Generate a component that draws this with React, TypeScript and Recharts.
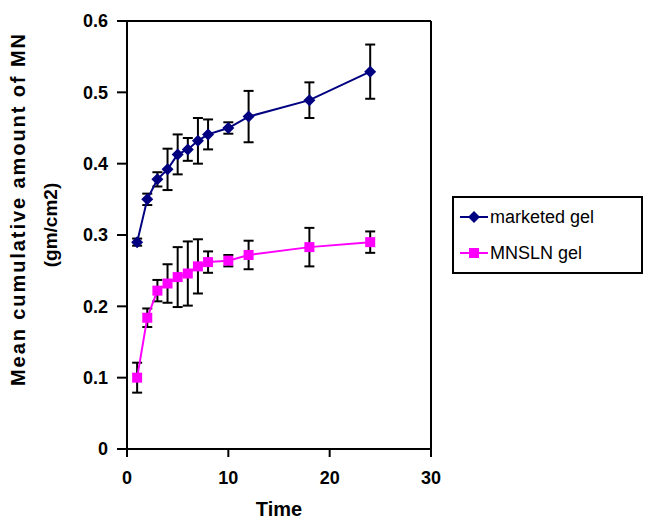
import React from "react";
import { ErrorBar, Line, LineChart, ReferenceLine, XAxis, YAxis } from "recharts";

const time = [1, 2, 3, 4, 5, 6, 7, 8, 10, 12, 18, 24];
const marketed = [0.29, 0.35, 0.378, 0.392, 0.413, 0.42, 0.432, 0.441, 0.45, 0.466, 0.489, 0.529];
const marketedErr = [0.005, 0.008, 0.01, 0.029, 0.028, 0.016, 0.032, 0.021, 0.008, 0.036, 0.025, 0.038];
const mnsln = [0.1, 0.184, 0.222, 0.232, 0.241, 0.246, 0.256, 0.262, 0.264, 0.272, 0.283, 0.29];
const mnslnErr = [0.021, 0.013, 0.015, 0.027, 0.042, 0.045, 0.038, 0.015, 0.008, 0.02, 0.027, 0.015];

const xTicks = [0, 10, 20, 30];
const yTicks = [0, 0.1, 0.2, 0.3, 0.4, 0.5, 0.6];

const BLUE = "#000080";
const PINK = "#ff00ff";
const FONT = "'Liberation Sans', Arial, sans-serif";

const data = time.map((t, i) => ({
  time: t,
  marketed: marketed[i],
  marketedErr: marketedErr[i],
  mnsln: mnsln[i],
  mnslnErr: mnslnErr[i],
}));

const Diamond = ({ cx, cy, color }: { cx: number; cy: number; color: string }) => (
  <polygon points={`${cx},${cy - 6} ${cx + 6},${cy} ${cx},${cy + 6} ${cx - 6},${cy}`} fill={color} />
);

const Square = ({ cx, cy, color }: { cx: number; cy: number; color: string }) => (
  <rect x={cx - 5} y={cy - 5} width={10} height={10} fill={color} />
);

const LegendBox = () => (
  <div
    style={{
      position: "absolute",
      left: 452,
      top: 196,
      width: 191,
      border: "2px solid #000",
      background: "#fff",
      padding: "1px 6px",
      fontFamily: FONT,
      fontSize: 18,
      color: "#000",
      boxSizing: "border-box",
    }}
  >
    <div style={{ display: "flex", alignItems: "center", height: 36 }}>
      <svg width={28} height={14} style={{ marginRight: 2 }}>
        <line x1={0} y1={7} x2={28} y2={7} stroke={BLUE} strokeWidth={2} />
        <Diamond cx={14} cy={7} color={BLUE} />
      </svg>
      <span>marketed gel</span>
    </div>
    <div style={{ display: "flex", alignItems: "center", height: 36 }}>
      <svg width={28} height={14} style={{ marginRight: 2 }}>
        <line x1={0} y1={7} x2={28} y2={7} stroke={PINK} strokeWidth={2} />
        <Square cx={14} cy={7} color={PINK} />
      </svg>
      <span>MNSLN gel</span>
    </div>
  </div>
);

const yLabel = () => (
  <g fontFamily={FONT} fontWeight="bold" fill="#000">
    <text x={25} y={210} transform="rotate(-90 25 210)" textAnchor="middle" fontSize={20} textLength={352} lengthAdjust="spacing">
      Mean cumulative amount of  MN
    </text>
    <text x={57} y={225} transform="rotate(-90 57 225)" textAnchor="middle" fontSize={19}>
      (gm/cm2)
    </text>
  </g>
);

export default function App() {
  return (
    <div style={{ position: "absolute", left: 0, top: 0, width: 649, height: 523, background: "#fff" }}>
      <LineChart width={649} height={523} data={data} margin={{ top: 21, right: 218, bottom: 0, left: 0 }}>
        <XAxis
          dataKey="time"
          type="number"
          domain={[0, 30]}
          ticks={xTicks}
          tickSize={8}
          tickMargin={14}
          stroke="#000"
          strokeWidth={2}
          height={74}
          tick={{ fill: "#000", fontSize: 18, fontWeight: "bold", fontFamily: FONT }}
          label={{ value: "Time", position: "insideBottom", offset: 7, fill: "#000", fontSize: 20, fontWeight: "bold", fontFamily: FONT }}
        />
        <YAxis
          type="number"
          domain={[0, 0.6]}
          ticks={yTicks}
          tickSize={10}
          tickMargin={9}
          width={127}
          stroke="#000"
          strokeWidth={2}
          tickFormatter={(v: number) => (v === 0 ? "0" : v.toFixed(1))}
          tick={{ fill: "#000", fontSize: 18, fontWeight: "bold", fontFamily: FONT }}
          label={{ content: yLabel }}
        />
        <ReferenceLine y={0.6} stroke="#000" strokeWidth={2} />
        <ReferenceLine x={30} stroke="#000" strokeWidth={2} />
        <Line
          dataKey="marketed"
          stroke={BLUE}
          strokeWidth={2}
          isAnimationActive={false}
          dot={(p: any) => <Diamond key={`m${p.index}`} cx={p.cx} cy={p.cy} color={BLUE} />}
          activeDot={false}
        >
          <ErrorBar dataKey="marketedErr" direction="y" width={5} stroke="#000" strokeWidth={2} isAnimationActive={false} />
        </Line>
        <Line
          dataKey="mnsln"
          stroke={PINK}
          strokeWidth={2}
          isAnimationActive={false}
          dot={(p: any) => <Square key={`s${p.index}`} cx={p.cx} cy={p.cy} color={PINK} />}
          activeDot={false}
        >
          <ErrorBar dataKey="mnslnErr" direction="y" width={5} stroke="#000" strokeWidth={2} isAnimationActive={false} />
        </Line>
      </LineChart>
      <LegendBox />
    </div>
  );
}
